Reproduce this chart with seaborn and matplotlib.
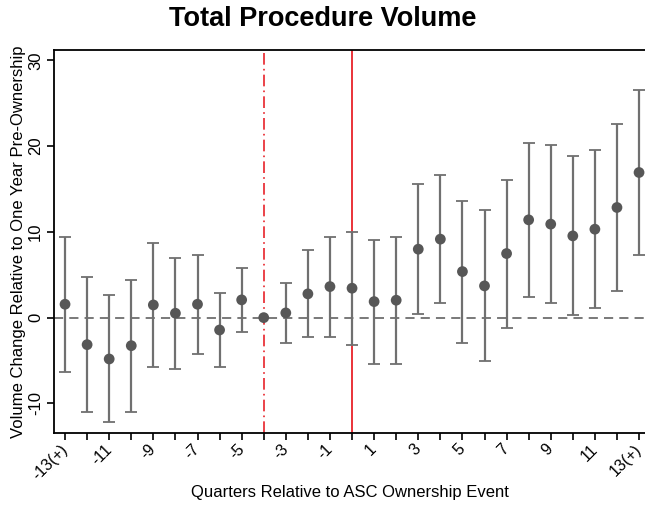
import matplotlib
matplotlib.use("Agg")
import matplotlib.pyplot as plt
import seaborn as sns
import pandas as pd

# Event-study estimates by quarter relative to ownership event
quarters = list(range(-13, 14))
tick_labels = ["-13(+)"] + [str(q) for q in range(-12, 13)] + ["13(+)"]
estimate = [1.56, -3.15, -4.82, -3.27, 1.48, 0.51, 1.56, -1.44, 2.07, 0.0,
            0.55, 2.77, 3.62, 3.43, 1.87, 2.03, 7.98, 9.15, 5.37, 3.70,
            7.47, 11.40, 10.90, 9.53, 10.31, 12.84, 16.92]
ci_low = [-6.30, -11.00, -12.20, -10.97, -5.75, -5.99, -4.24, -5.71, -1.71, 0.0,
          -2.99, -2.29, -2.22, -3.19, -5.40, -5.40, 0.40, 1.68, -2.92, -5.05,
          -1.17, 2.45, 1.68, 0.31, 1.17, 3.12, 7.28]
ci_high = [9.45, 4.78, 2.61, 4.43, 8.75, 6.97, 7.28, 2.88, 5.84, 0.0,
           4.08, 7.86, 9.45, 10.00, 9.07, 9.45, 15.60, 16.57, 13.62, 12.53,
           16.07, 20.40, 20.10, 18.80, 19.50, 22.57, 26.50]

df = pd.DataFrame({"quarter": quarters, "estimate": estimate,
                   "low": ci_low, "high": ci_high})

sns.set_style("white")
plt.rcParams["font.family"] = ["Liberation Sans", "DejaVu Sans"]
plt.rcParams["text.color"] = "black"
plt.rcParams["axes.labelcolor"] = "black"
plt.rcParams["xtick.color"] = "black"
plt.rcParams["ytick.color"] = "black"

fig = plt.figure(figsize=(6.45, 5.13), dpi=100)
ax = fig.add_axes([54 / 645, (513 - 433) / 513, 1 - 54 / 645, (433 - 50) / 513])

# Reference lines: ownership window start and event quarter
ax.axvline(-4, color="#e8222a", lw=1.2, ls=(0, (7, 2.5, 1, 2.5)), zorder=1)
ax.axvline(0, color="#e8222a", lw=1.3, zorder=1)
ax.axhline(0, color="#555555", lw=1.1, ls=(0, (6, 4)), zorder=1)

# Confidence intervals
bars = df[df["low"] != df["high"]]
ax.errorbar(bars["quarter"], bars["estimate"],
            yerr=[bars["estimate"] - bars["low"], bars["high"] - bars["estimate"]],
            fmt="none", ecolor="#707070", elinewidth=1.6, capsize=4.5,
            capthick=1.3, zorder=2)

sns.scatterplot(data=df, x="quarter", y="estimate", ax=ax, color="#575757",
                s=60, edgecolor="none", zorder=3, legend=False)

ax.set_xlim(-13.5, 13.27)
ax.set_ylim(-13.45, 31.2)
ax.set_xticks(quarters)
ax.set_xticklabels([lab if i % 2 == 0 else "" for i, lab in enumerate(tick_labels)],
                   rotation=45, ha="right", va="center", rotation_mode="anchor",
                   fontsize=11.5)
ax.set_yticks([-10, 0, 10, 20, 30])
ax.set_yticklabels(["-10", "0", "10", "20", "30"], rotation=90, va="center",
                   fontsize=12)
ax.tick_params(axis="both", direction="out", length=5, width=1.2,
               color="black", labelcolor="black", bottom=True, left=True, pad=3)
ax.tick_params(axis="x", pad=5)

for side in ["left", "bottom", "top"]:
    ax.spines[side].set_color("black")
    ax.spines[side].set_linewidth(1.3)
ax.spines["right"].set_visible(False)

ax.set_xlabel("Quarters Relative to ASC Ownership Event", fontsize=12,
              labelpad=2, color="black")
ax.set_ylabel("Volume Change Relative to One Year Pre-Ownership", fontsize=12,
              labelpad=1, color="black")
fig.suptitle("Total Procedure Volume", fontsize=19.5, fontweight="bold",
             x=0.5, y=0.988, color="black")

fig.savefig("out.png", dpi=100)
